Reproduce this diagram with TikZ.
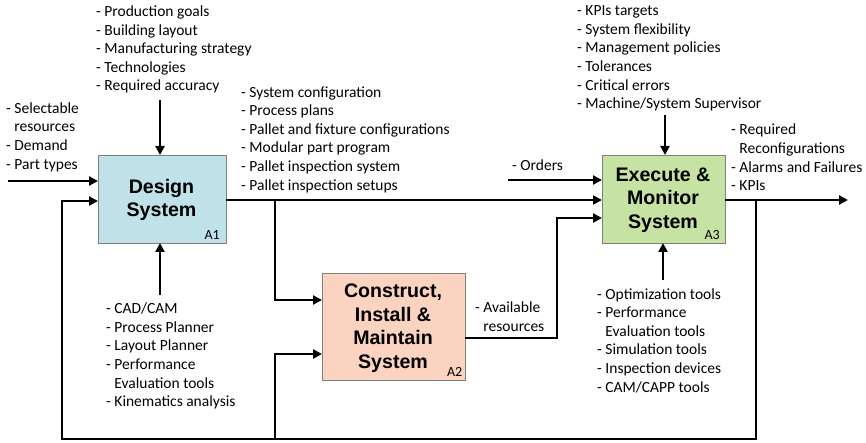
\documentclass[tikz,border=0pt]{standalone}
\usepackage{fontspec}
\setmainfont{Carlito}
\newfontfamily\boxfont{Liberation Sans}
\usetikzlibrary{arrows.meta}
\definecolor{cA}{HTML}{BFE1E8}
\definecolor{cB}{HTML}{FAD3C1}
\definecolor{cC}{HTML}{C6E3A3}
\definecolor{bord}{HTML}{7F7F7F}
\tikzset{
  act/.style={draw=bord, line width=0.8pt},
  title/.style={font=\boxfont\bfseries\fontsize{19.6}{23.5}\selectfont, align=center, inner sep=0},
  lst/.style={font=\fontsize{15.5}{18.6}\selectfont, align=left, anchor=west, inner sep=0},
  tag/.style={font=\fontsize{14}{15}\selectfont, inner sep=0},
  flow/.style={line width=2.8pt, -{Triangle[length=9pt,width=9pt]}},
  line/.style={line width=2.8pt},
}
\begin{document}
\begin{tikzpicture}[x=1pt,y=-1pt]
\useasboundingbox (0,0) rectangle (866,443);
% boxes
\path[act,fill=cA] (98,155) rectangle (226,243);
\path[act,fill=cB] (322,273) rectangle (465,380);
\path[act,fill=cC] (602,155) rectangle (725,243);
\node[title] (t1) at (161.5,200) {Design\\System};
\node[title] (t2) at (393,328) {Construct,\\Install \&\\Maintain\\System};
\node[title] (t3) at (663,200) {Execute \&\\Monitor\\System};
\node[tag,anchor=south east] (a1) at (220,240) {A1};
\node[tag,anchor=south east] (a2) at (462.5,377) {A2};
\node[tag,anchor=south east] (a3) at (720,240) {A3};
% box anchor coordinates
\coordinate (A1w1) at (98,181);
\coordinate (A1w2) at (98,201);
\coordinate (A1n) at (160,155);
\coordinate (A1s) at (160,243);
\coordinate (A1e) at (226,200);
\coordinate (A2w1) at (322,300);
\coordinate (A2w2) at (322,354);
\coordinate (A2e) at (465,338);
\coordinate (A3w1) at (602,180);
\coordinate (A3w2) at (602,200);
\coordinate (A3w3) at (602,218);
\coordinate (A3n) at (665,155);
\coordinate (A3s) at (663,243);
\coordinate (A3e) at (725,200);
% free ends
\coordinate (in1) at (8,181);
\coordinate (top1) at (160,100);
\coordinate (bot1) at (160,295);
\coordinate (ord) at (508,180);
\coordinate (top3) at (665,115);
\coordinate (bot3) at (663,280);
\coordinate (out3) at (848,200);
\coordinate (br1) at (275,200);
\coordinate (br3) at (756,200);
\coordinate (bl) at (62,439);
\coordinate (bm) at (275,439);
% connectors
\draw[flow] (in1) -- (A1w1);
\draw[flow] (top1) -- (A1n);
\draw[flow] (bot1) -- (A1s);
\draw[flow] (A1e) -- (A3w2);
\draw[flow] (br1) |- (A2w1);
\draw[flow] (ord) -- (A3w1);
\draw[flow] (A2e) -| (557,218) -- (A3w3);
\draw[flow] (top3) -- (A3n);
\draw[flow] (bot3) -- (A3s);
\draw[flow] (A3e) -- (out3);
\draw[flow] (br3) |- (bl) |- (A1w2);
\draw[flow] (bm) |- (A2w2);
% labels
\node[lst] (l1) at (96,49.5) {- Production goals\\- Building layout\\- Manufacturing strategy\\- Technologies\\- Required accuracy};
\node[lst] (l2) at (6,137) {- Selectable\\\hphantom{-}\ resources\\- Demand\\- Part types};
\node[lst] (l3) at (241,139.5) {- System configuration\\- Process plans\\- Pallet and fixture configurations\\- Modular part program\\- Pallet inspection system\\- Pallet inspection setups};
\node[lst] (l4) at (106,356) {- CAD/CAM\\- Process Planner\\- Layout Planner\\- Performance\\\hphantom{-}\ Evaluation tools\\- Kinematics analysis};
\node[lst] (l5) at (475,316.5) {- Available\\\hphantom{-}\ resources};
\node[lst] (l6) at (577,58.5) {- KPIs targets\\- System flexibility\\- Management policies\\- Tolerances\\- Critical errors\\- Machine/System Supervisor};
\node[lst] (l7) at (731,157.5) {- Required\\\hphantom{-}\ Reconfigurations\\- Alarms and Failures\\- KPIs};
\node[lst] (l8) at (597,340.5) {- Optimization tools\\- Performance\\\hphantom{-}\ Evaluation tools\\- Simulation tools\\- Inspection devices\\- CAM/CAPP tools};
\node[lst] (l9) at (512,165) {- Orders};
\end{tikzpicture}
\end{document}
